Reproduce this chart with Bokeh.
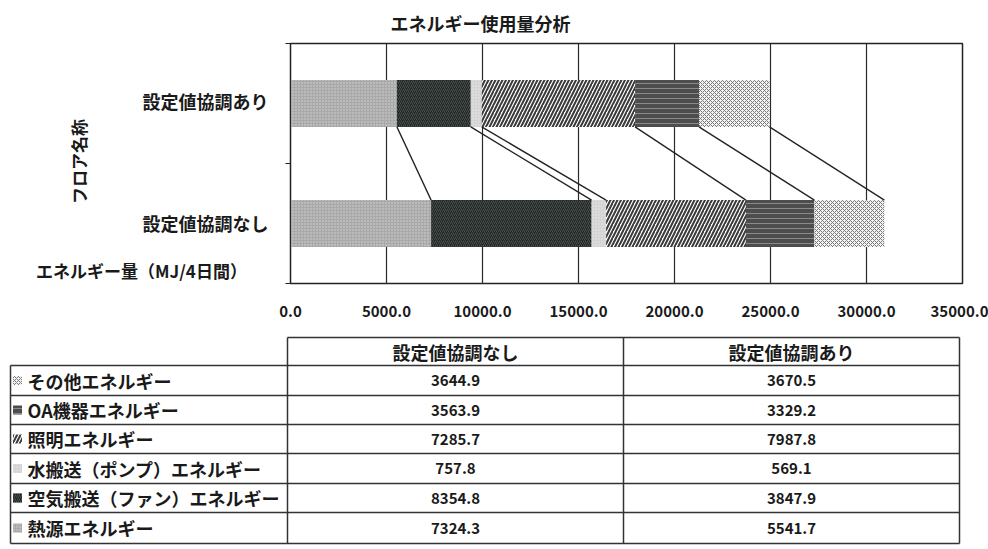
from bokeh.plotting import figure
from bokeh.models import Range1d, FixedTicker, NumeralTickFormatter
from bokeh.layouts import column, row
from bokeh.embed import file_html
from bokeh.resources import INLINE
from bokeh.core.properties import value
import math

# ---------------- data ----------------
chart_title = "エネルギー使用量分析"
x_title = "エネルギー量（MJ/4日間）"
y_title = "フロア名称"
floors = ["設定値協調なし", "設定値協調あり"]          # bottom -> top
series = ["熱源エネルギー", "空気搬送（ファン）エネルギー", "水搬送（ポンプ）エネルギー",
          "照明エネルギー", "OA機器エネルギー", "その他エネルギー"]   # stack order
values_nashi = [7324.3, 8354.8, 757.8, 7285.7, 3563.9, 3644.9]
values_ari = [5541.7, 3847.9, 569.1, 7987.8, 3329.2, 3670.5]
x_ticks = [0, 5000, 10000, 15000, 20000, 25000, 30000, 35000]

# ---------------- styles ----------------
FONT_NAME = "Noto Sans CJK JP"
FONT = value(FONT_NAME)
TXT = "#1a1a1a"
styles = [
    dict(fill_color="#a9a9a9", hatch_pattern="dot", hatch_color="#d6d6d6", hatch_scale=3, hatch_weight=1),
    dict(fill_color="#1e2422", hatch_pattern="right_diagonal_line", hatch_color="#4a514e", hatch_scale=4, hatch_weight=1),
    dict(fill_color="#d4d4d4", hatch_pattern="dot", hatch_color="#e8e8e8", hatch_scale=3, hatch_weight=1),
    dict(fill_color="#ffffff", hatch_pattern="right_diagonal_line", hatch_color="#3a3a3a", hatch_scale=7, hatch_weight=2),
    dict(fill_color="#4d4d4d", hatch_pattern="horizontal_line", hatch_color="#8a8a8a", hatch_scale=5, hatch_weight=1),
    dict(fill_color="#f4f4f4", hatch_pattern="diagonal_cross", hatch_color="#7a7a7a", hatch_scale=4, hatch_weight=1),
]

# ---------------- layout constants (page pixels) ----------------
W, H1 = 988, 330
FL, FR, FT, FB = 290, 962, 40, 283       # chart frame
LW = 270                                 # width of left label panel
XMAX = x_ticks[-1]
NF = len(floors)

def px_y(py):
    return (FB - py) / (FB - FT) * NF

# ---------------- chart ----------------
y_rng = Range1d(0, NF)
p = figure(width=W - LW, height=H1, output_backend="svg", toolbar_location=None,
           x_range=Range1d(0, XMAX), y_range=y_rng,
           min_border_left=FL - LW, min_border_right=W - FR,
           min_border_top=FT, min_border_bottom=H1 - FB)
p.frame_align = False
p.background_fill_color = "white"
p.border_fill_color = "white"
p.outline_line_color = "#222222"
p.outline_line_width = 1.5

p.title.text = chart_title
p.title.align = "left"
p.title.offset = 390 - FL
p.title.standoff = 15
p.title.text_font = FONT_NAME
p.title.text_font_size = "18px"
p.title.text_font_style = "bold"
p.title.text_color = TXT

p.xaxis.ticker = FixedTicker(ticks=x_ticks)
p.xaxis.formatter = NumeralTickFormatter(format="0.0")
p.xaxis.major_tick_out = 0
p.xaxis.major_tick_in = 0
p.xaxis.minor_tick_out = 0
p.xaxis.axis_line_color = "#222222"
p.xaxis.major_label_standoff = 22
p.xaxis.major_label_text_font = FONT_NAME
p.xaxis.major_label_text_font_size = "15px"
p.xaxis.major_label_text_font_style = "bold"
p.xaxis.major_label_text_color = TXT

ycent = [i + 0.5 for i in range(NF)]
p.yaxis.ticker = FixedTicker(ticks=[], minor_ticks=list(range(NF + 1)))
p.yaxis.major_tick_out = 0
p.yaxis.major_tick_in = 0
p.yaxis.minor_tick_out = 5
p.yaxis.minor_tick_in = 0
p.yaxis.minor_tick_line_color = "#222222"
p.yaxis.axis_line_color = "#222222"
p.yaxis.major_label_standoff = 0

p.xgrid.ticker = FixedTicker(ticks=x_ticks)
p.xgrid.grid_line_color = "#2a2a2a"
p.xgrid.grid_line_width = 1.2
p.ygrid.grid_line_color = None

BAR_H = 0.39
cum_n, cum_a = 0.0, 0.0
ends_n, ends_a = [], []
for name, vn, va, st in zip(series, values_nashi, values_ari, styles):
    p.hbar(y=ycent, left=[cum_n, cum_a], right=[cum_n + vn, cum_a + va], height=BAR_H,
           line_color=None, **st)
    cum_n += vn
    cum_a += va
    ends_n.append(cum_n)
    ends_a.append(cum_a)

p.segment(x0=ends_a, y0=[ycent[1] - BAR_H / 2] * len(ends_a),
          x1=ends_n, y1=[ycent[0] + BAR_H / 2] * len(ends_n),
          line_color="#222222", line_width=1.3)

# ---------------- left label panel (shares the chart's y scale) ----------------
lf = figure(width=LW, height=H1, output_backend="svg", toolbar_location=None,
            x_range=Range1d(0, LW), y_range=y_rng, x_axis_type=None, y_axis_type=None,
            min_border_left=0, min_border_right=0, min_border_top=FT, min_border_bottom=H1 - FB)
lf.frame_align = False
lf.outline_line_color = None
lf.background_fill_color = "white"
lf.border_fill_color = "white"
lf.xgrid.grid_line_color = None
lf.ygrid.grid_line_color = None

lf.text(x=[268] * NF, y=ycent, text=floors, text_align="right", text_baseline="middle",
        text_font=FONT, text_font_size="18px", text_font_style="bold", text_color=TXT)
lf.text(x=[78], y=[px_y(161)], text=[y_title], angle=math.pi / 2, text_align="center",
        text_baseline="middle", text_font=FONT, text_font_size="17px",
        text_font_style="bold", text_color=TXT)
lf.text(x=[141], y=[px_y(270)], text=[x_title], text_align="center", text_baseline="middle",
        text_font=FONT, text_font_size="17px", text_font_style="bold", text_color=TXT)

# ---------------- data table ----------------
H2 = 549 - H1
t = figure(width=W, height=H2, output_backend="svg", toolbar_location=None,
           x_range=Range1d(0, W), y_range=Range1d(549, H1),
           x_axis_type=None, y_axis_type=None,
           min_border_left=0, min_border_right=0, min_border_top=0, min_border_bottom=0)
t.frame_align = False
t.outline_line_color = None
t.background_fill_color = "white"
t.border_fill_color = "white"
t.xgrid.grid_line_color = None
t.ygrid.grid_line_color = None

TL, C1, C2, TR = 10, 287, 623, 959
HEAD_TOP, HEAD_BOT = 337, 365
row_lines = [365, 395, 424, 453, 483, 512, 543]

hx0 = [C1] + [TL] * len(row_lines)
hx1 = [TR] * (len(row_lines) + 1)
hy = [HEAD_TOP] + row_lines
t.segment(x0=hx0, y0=hy, x1=hx1, y1=hy, line_color="#333333", line_width=1.5)
vx = [TL, C1, C2, TR]
vy0 = [HEAD_BOT, HEAD_TOP, HEAD_TOP, HEAD_TOP]
vy1 = [row_lines[-1]] * 4
t.segment(x0=vx, y0=vy0, x1=vx, y1=vy1, line_color="#333333", line_width=1.5)

col_cx = [(C1 + C2) / 2, (C2 + TR) / 2]
t.text(x=col_cx, y=[(HEAD_TOP + HEAD_BOT) / 2] * 2, text=floors, text_align="center",
       text_baseline="middle", text_font=FONT, text_font_size="18px",
       text_font_style="bold", text_color=TXT)

order = list(range(len(series)))[::-1]
row_cy = [(row_lines[k] + row_lines[k + 1]) / 2 for k in range(len(order))]
for k, i in enumerate(order):
    cy = row_cy[k]
    t.rect(x=[17], y=[cy], width=9, height=9, line_color=None, **styles[i])
    t.text(x=[27], y=[cy], text=[series[i]], text_align="left", text_baseline="middle",
           text_font=FONT, text_font_size="18px", text_font_style="bold", text_color=TXT)
    t.text(x=col_cx, y=[cy, cy], text=[f"{values_nashi[i]:.1f}", f"{values_ari[i]:.1f}"],
           text_align="center", text_baseline="middle", text_font=FONT,
           text_font_size="15px", text_font_style="bold", text_color=TXT)

layout = column(row(lf, p, spacing=0), t, spacing=0)
open("out.html", "w").write(file_html(layout, INLINE))
